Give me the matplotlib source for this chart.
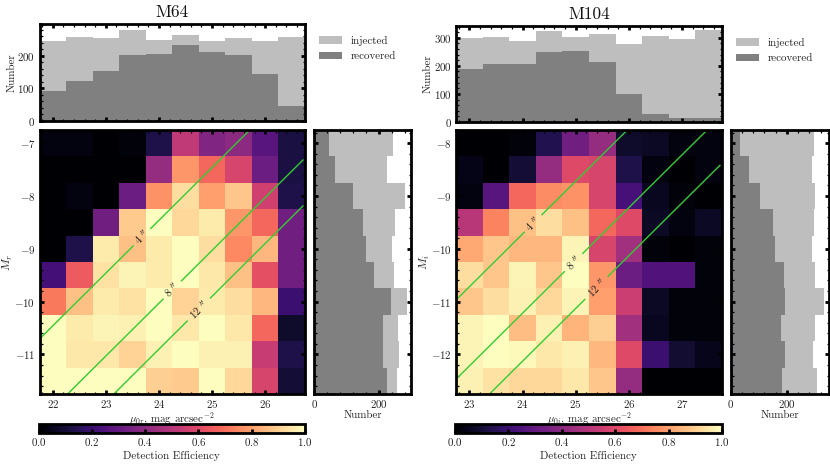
import numpy as np
import matplotlib
matplotlib.use("Agg")
import matplotlib.pyplot as plt
from matplotlib.ticker import AutoMinorLocator, MultipleLocator
from matplotlib.patches import Patch

FS = 7.9
plt.rcParams.update({
    "font.family": "serif", "font.serif": ["cmr10"], "mathtext.fontset": "cm",
    "axes.formatter.use_mathtext": True, "axes.unicode_minus": True,
    "font.size": FS, "axes.linewidth": 2.0,
})

W, H = 830, 470

# ---- M64 ----
m64_eff = [
    [0.03,0.03,0.00,0.02,0.13,0.52,0.37,0.40,0.27,0.12],
    [0.00,0.00,0.00,0.00,0.42,0.78,0.68,0.58,0.32,0.12],
    [0.00,0.03,0.00,0.32,0.77,0.93,0.80,0.88,0.56,0.13],
    [0.00,0.00,0.33,0.89,1.00,0.92,0.96,0.78,0.68,0.33],
    [0.00,0.13,0.96,0.87,0.96,1.00,0.93,0.75,0.85,0.33],
    [0.22,0.65,0.94,0.98,0.96,1.00,0.95,0.87,0.62,0.33],
    [0.72,0.87,0.96,0.94,1.00,0.91,0.96,0.93,0.85,0.20],
    [1.00,0.96,0.98,0.97,1.00,0.95,1.00,0.95,0.68,0.08],
    [1.00,0.95,0.95,0.91,0.97,1.00,0.97,0.97,0.54,0.13],
    [1.00,1.00,1.00,1.00,0.90,0.89,1.00,0.92,0.58,0.10],
]
m64_top_inj = [246,257,256,281,250,264,244,255,244,257]
m64_top_rec = [92,123,152,202,204,234,213,203,145,46]
m64_side_inj = [244,225,279,250,241,246,285,258,262,256]
m64_side_rec = [46,66,121,149,160,185,238,213,211,225]
m64_offsets = [-32.46,-34.03,-34.90]
m64_label_mu = [23.68,24.25,24.75]

# ---- M104 ----
m104_eff = [
    [0.00,0.00,0.02,0.14,0.33,0.42,0.08,0.07,0.03,0.03],
    [0.04,0.00,0.10,0.42,0.60,0.58,0.13,0.03,0.00,0.03],
    [0.03,0.27,0.68,0.76,0.77,0.58,0.23,0.06,0.02,0.00],
    [0.50,0.74,0.87,0.93,0.87,0.68,0.60,0.07,0.03,0.07],
    [0.82,0.88,0.85,0.85,0.98,0.58,0.45,0.02,0.00,0.02],
    [0.93,0.88,0.98,0.88,1.00,0.78,0.32,0.25,0.25,0.02],
    [0.88,0.93,0.97,0.92,0.98,0.80,0.55,0.07,0.02,0.02],
    [0.98,1.00,0.86,0.97,0.84,0.90,0.45,0.06,0.02,0.02],
    [0.98,1.00,0.99,0.95,0.97,0.85,0.60,0.20,0.09,0.05],
    [0.97,0.94,0.92,0.92,0.95,0.88,0.42,0.00,0.00,0.00],
]
m104_top_inj = [298,304,288,324,304,313,277,306,296,326]
m104_top_rec = [189,206,208,248,252,214,99,27,15,13]
m104_side_inj = [296,291,302,296,291,301,332,299,292,308]
m104_side_rec = [35,67,105,150,158,190,195,181,195,182]
m104_offsets = [-33.72,-35.22,-36.13]
m104_label_mu = [24.20,24.96,25.39]

contour_labels = ['4', '8', '12']
gap_half = [0.157, 0.165, 0.21]
INJ, REC, GREEN = "#bebebe", "#808080", "#33cc33"
TXT = "#222222"


def axpx(x0, x1, y0, y1):
    return fig.add_axes([x0/W, 1-y1/H, (x1-x0)/W, (y1-y0)/H])


def style(ax, xminor=5, yminor=5):
    ax.xaxis.set_minor_locator(AutoMinorLocator(xminor))
    ax.yaxis.set_minor_locator(AutoMinorLocator(yminor))
    ax.tick_params(which="major", direction="in", top=True, right=True,
                   length=3, width=2.0, labelsize=FS, pad=3, color="k", labelcolor=TXT)
    ax.tick_params(which="minor", direction="in", top=True, right=True,
                   length=1.8, width=0.9)


def panel(title, eff, top_inj, top_rec, side_inj, side_rec, offsets, label_mu,
          xlo, ylo, xmaj, ymaj, top_ymax, top_ymaj, side_xmax, bandname, ylab,
          px_main, px_side, px_top, px_cb, leg_anchor):
    n = len(eff)
    xe = xlo + 0.5*np.arange(n+1)
    ye = ylo - 0.5*np.arange(n+1)
    xc = (xe[:-1]+xe[1:])/2
    yc = (ye[:-1]+ye[1:])/2

    a = axpx(px_main[0], px_main[1], px_top[1], px_top[2])
    m = a.pcolormesh(xe, ye, np.array(eff), cmap="magma", vmin=0, vmax=1,
                     rasterized=True, linewidth=0)
    a.set_xlim(xe[0], xe[-1]); a.set_ylim(ye[-1], ye[0])
    a.set_xticks(xmaj); a.set_yticks(ymaj)
    style(a)
    a.set_xlabel(r"$\mu_{0%s}$, mag arcsec$^{-2}$" % bandname, fontsize=FS, color=TXT)
    a.xaxis.set_label_coords(0.5, -0.0605)
    a.xaxis.label.set_va("top")
    a.set_ylabel(ylab, fontsize=FS+0.6, color=TXT, va="center")
    a.yaxis.set_label_coords(-0.117, 0.5)

    for off, lab, mu0, g in zip(offsets, contour_labels, label_mu, gap_half):
        mu_a = max(xe[0], ye[-1]-off)
        mu_b = min(xe[-1]-0.03, ye[0]-off)
        for s, e in ((mu_a, mu0-g), (mu0+g, mu_b)):
            a.plot([s, e], [s+off, e+off], color=GREEN, lw=1.0, solid_capstyle="butt")
        a.text(mu0, mu0+off, lab + r" $^{\prime\prime}$", rotation=45, rotation_mode="anchor",
               ha="center", va="center", fontsize=FS, color=TXT)

    t = axpx(px_main[0], px_main[1], px_top[0], px_top[3])
    t.bar(xc, top_inj, width=0.5, color=INJ, linewidth=0, label="injected")
    t.bar(xc, top_rec, width=0.5, color=REC, linewidth=0, label="recovered")
    t.set_xlim(xe[0], xe[-1]); t.set_ylim(0, top_ymax)
    t.set_xticks(xmaj); t.set_xticklabels([])
    t.yaxis.set_major_locator(MultipleLocator(top_ymaj))
    style(t)
    t.set_ylabel("Number", fontsize=FS, color=TXT, va="center")
    t.yaxis.set_label_coords(-0.105, 0.5)
    t.set_title(title, fontsize=12.5, pad=5, color="#111111")

    s = axpx(px_side[0], px_side[1], px_top[1], px_top[2])
    s.barh(yc, side_inj, height=0.5, color=INJ, linewidth=0)
    s.barh(yc, side_rec, height=0.5, color=REC, linewidth=0)
    s.set_ylim(ye[-1], ye[0]); s.set_xlim(0, side_xmax)
    s.set_yticks(ymaj); s.set_yticklabels([])
    s.xaxis.set_major_locator(MultipleLocator(200))
    style(s)
    s.set_xlabel("Number", labelpad=0.5, fontsize=FS, color=TXT)

    fig.legend(handles=[Patch(facecolor=INJ, label="injected"), Patch(facecolor=REC, label="recovered")],
               loc="upper left", bbox_to_anchor=(leg_anchor[0]/W, 1-leg_anchor[1]/H),
               frameon=False, fontsize=FS, handlelength=2.1, handleheight=0.72,
               labelspacing=0.55, handletextpad=0.75, borderpad=0, borderaxespad=0,
               labelcolor=TXT)

    c = axpx(px_cb[0], px_cb[1], px_cb[2], px_cb[3])
    cb = fig.colorbar(m, cax=c, orientation="horizontal")
    cb.set_ticks(np.arange(0, 1.01, 0.2))
    cb.ax.tick_params(direction="in", length=3, width=2.0, labelsize=FS, pad=2.5, labelcolor=TXT)
    cb.ax.minorticks_off()
    cb.outline.set_linewidth(2.0)
    cb.set_label("Detection Efficiency", fontsize=FS, labelpad=2, color=TXT)


fig = plt.figure(figsize=(W/100, H/100), dpi=100)

panel("M64", m64_eff, m64_top_inj, m64_top_rec, m64_side_inj, m64_side_rec,
      m64_offsets, m64_label_mu, 21.75, -6.75, [22,23,24,25,26], [-7,-8,-9,-10,-11],
      298, 100, 298, "r", r"$M_r$",
      (39.5, 305), (314, 411), (24, 130, 394, 120.5), (38.5, 305, 423.5, 433), (319, 35.5))

panel("M104", m104_eff, m104_top_inj, m104_top_rec, m104_side_inj, m104_side_rec,
      m104_offsets, m104_label_mu, 22.75, -7.75, [23,24,25,26,27], [-8,-9,-10,-11,-12],
      342, 100, 350, "i", r"$M_i$",
      (456, 722), (730.5, 829), (26, 130, 394, 122), (455, 722, 423.5, 433), (736, 37.5))

fig.savefig("out.png", dpi=100, facecolor="white")
